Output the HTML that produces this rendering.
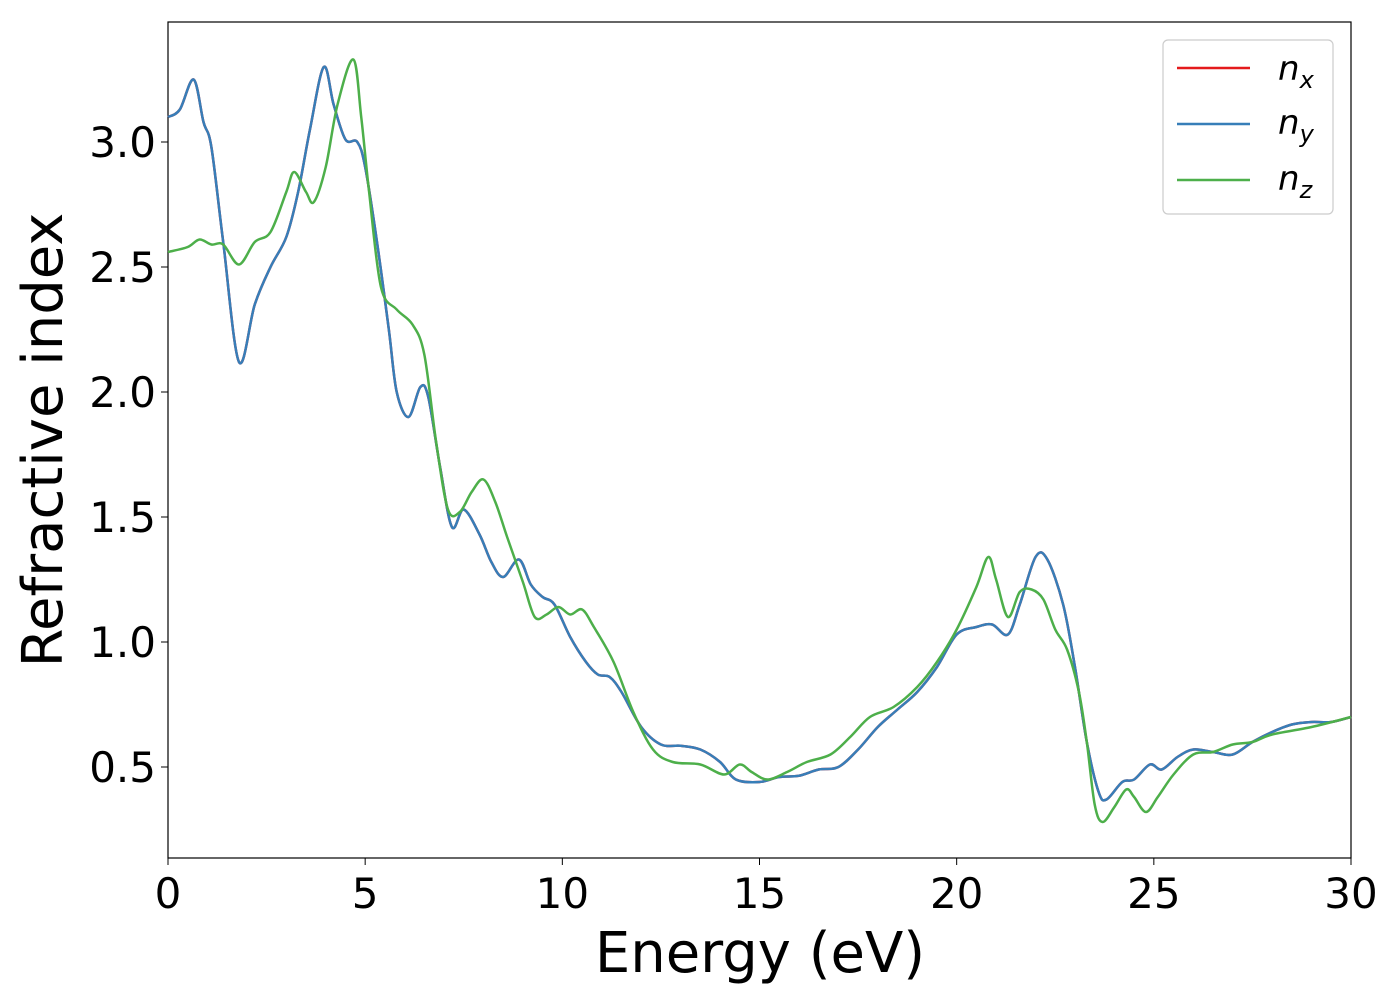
<!DOCTYPE html>
<html><head><meta charset="utf-8"><style>
body{margin:0;background:#fff;}
svg{font-family:"DejaVu Sans","Liberation Sans",sans-serif;}
</style></head><body>
<svg id="chart" width="1400" height="1000">
<rect x="168" y="22" width="1183" height="836" fill="#fff" stroke="#000" stroke-width="1.2"/>
<g id="ticks"></g>
<g id="series"></g>
<text x="760" y="972" font-size="56" text-anchor="middle">Energy (eV)</text>
<text transform="translate(62,440) rotate(-90)" font-size="56" text-anchor="middle">Refractive index</text>
<g>
<rect x="1163" y="40" width="170" height="174" rx="5" fill="#fff" stroke="#ccc" stroke-width="1.2"/>
<line x1="1177" y1="68" x2="1250" y2="68" stroke="#e41a1c" stroke-width="2.5"/>
<text x="1278" y="80" font-size="34" font-style="italic">n<tspan font-size="24" dy="8">x</tspan></text>
<line x1="1177" y1="124" x2="1250" y2="124" stroke="#377eb8" stroke-width="2.5"/>
<text x="1278" y="134" font-size="34" font-style="italic">n<tspan font-size="24" dy="8">y</tspan></text>
<line x1="1177" y1="180" x2="1250" y2="180" stroke="#4daf4a" stroke-width="2.5"/>
<text x="1278" y="190" font-size="34" font-style="italic">n<tspan font-size="24" dy="8">z</tspan></text>
</g>
</svg>
<script>
const xTicks=[0,5,10,15,20,25,30];
const yTicks=[0.5,1.0,1.5,2.0,2.5,3.0];
const energyXY=[0,0.3,0.65,0.9,1.1,1.4,1.8,2.2,2.6,3.0,3.3,3.6,3.95,4.2,4.5,4.8,5.0,5.3,5.6,5.8,6.1,6.4,6.6,6.9,7.2,7.5,7.9,8.2,8.5,8.9,9.2,9.5,9.8,10.2,10.6,10.9,11.2,11.5,12.0,12.5,13.0,13.5,14.0,14.4,15.0,15.5,16.0,16.5,17.0,17.5,18.0,18.5,19.0,19.5,20.0,20.5,20.9,21.3,21.6,22.0,22.3,22.7,23.0,23.3,23.6,23.8,24.2,24.5,24.9,25.2,25.6,26.0,26.5,27.0,27.5,28.0,28.5,29.0,29.5,30.0];
const nx=[3.10,3.13,3.25,3.08,2.98,2.60,2.12,2.35,2.50,2.62,2.80,3.05,3.30,3.15,3.01,3.00,2.90,2.60,2.25,2.00,1.90,2.02,1.98,1.70,1.46,1.53,1.43,1.32,1.26,1.33,1.23,1.18,1.15,1.02,0.92,0.87,0.86,0.80,0.66,0.59,0.585,0.57,0.52,0.45,0.44,0.46,0.465,0.49,0.50,0.57,0.66,0.73,0.80,0.90,1.03,1.06,1.07,1.03,1.15,1.34,1.33,1.15,0.90,0.60,0.40,0.37,0.44,0.45,0.51,0.49,0.54,0.57,0.56,0.55,0.60,0.64,0.67,0.68,0.68,0.70];
const ny=nx.slice();
const energyZ=[0,0.5,0.8,1.1,1.4,1.8,2.2,2.6,3.0,3.2,3.5,3.7,4.0,4.3,4.7,4.9,5.1,5.4,5.8,6.2,6.5,6.8,7.1,7.4,7.7,8.0,8.3,8.6,9.0,9.3,9.6,9.9,10.2,10.5,10.8,11.3,11.8,12.3,12.8,13.5,14.1,14.5,14.8,15.2,15.7,16.2,16.8,17.3,17.8,18.4,19.0,19.5,20.0,20.5,20.8,21.0,21.3,21.6,21.9,22.2,22.5,22.8,23.1,23.3,23.5,23.7,24.0,24.3,24.5,24.8,25.1,25.5,26.0,26.5,27.0,27.5,28.0,29.0,30.0];
const nz=[2.56,2.58,2.61,2.59,2.59,2.51,2.60,2.64,2.80,2.88,2.80,2.76,2.90,3.15,3.33,3.10,2.80,2.42,2.33,2.27,2.15,1.80,1.53,1.52,1.60,1.65,1.56,1.42,1.24,1.10,1.11,1.14,1.11,1.13,1.06,0.92,0.72,0.57,0.52,0.51,0.47,0.51,0.48,0.45,0.48,0.52,0.55,0.62,0.70,0.74,0.82,0.92,1.05,1.22,1.34,1.25,1.10,1.20,1.21,1.17,1.05,0.97,0.80,0.60,0.35,0.28,0.34,0.41,0.38,0.32,0.38,0.47,0.55,0.56,0.59,0.60,0.63,0.66,0.70];
const NS='http://www.w3.org/2000/svg';
const X=v=>168+v*(1183/30);
const Y=v=>142+(3.0-v)*250;
const ticks=document.getElementById('ticks');
xTicks.forEach(t=>{
  const l=document.createElementNS(NS,'line');
  l.setAttribute('x1',X(t));l.setAttribute('x2',X(t));l.setAttribute('y1',858);l.setAttribute('y2',865);l.setAttribute('stroke','#000');
  
  
  ticks.appendChild(l);
  const tx=document.createElementNS(NS,'text');
  tx.setAttribute('x',X(t));tx.setAttribute('y',908);tx.setAttribute('font-size','42');tx.setAttribute('text-anchor','middle');
  tx.textContent=t;
  
  
  ticks.appendChild(tx);
});
yTicks.forEach(t=>{
  const l=document.createElementNS(NS,'line');
  l.setAttribute('x1',161);l.setAttribute('x2',168);l.setAttribute('y1',Y(t));l.setAttribute('y2',Y(t));l.setAttribute('stroke','#000');
  
  
  ticks.appendChild(l);
  const tx=document.createElementNS(NS,'text');
  tx.setAttribute('x',156);tx.setAttribute('y',Y(t)+15);tx.setAttribute('font-size','42');tx.setAttribute('text-anchor','end');
  tx.textContent=t.toFixed(1);
  
  
  ticks.appendChild(tx);
});
function pathFor(xs,ys){
  const p=xs.map((x,i)=>[X(x),Y(ys[i])]);
  let d='M'+p[0][0]+','+p[0][1];
  for(let i=0;i<p.length-1;i++){
    const p0=p[Math.max(0,i-1)],p1=p[i],p2=p[i+1],p3=p[Math.min(p.length-1,i+2)];
    const c1x=p1[0]+(p2[0]-p0[0])/6,c1y=p1[1]+(p2[1]-p0[1])/6;
    const c2x=p2[0]-(p3[0]-p1[0])/6,c2y=p2[1]-(p3[1]-p1[1])/6;
    d+=` C${c1x},${c1y} ${c2x},${c2y} ${p2[0]},${p2[1]}`;
  }
  return d;
}
const series=document.getElementById('series');
[[energyXY,nx,'#e41a1c','line-nx'],[energyXY,ny,'#377eb8','line-ny'],[energyZ,nz,'#4daf4a','line-nz']].forEach(s=>{
  const p=document.createElementNS(NS,'path');
  p.setAttribute('d',pathFor(s[0],s[1]));p.setAttribute('fill','none');p.setAttribute('stroke',s[2]);p.setAttribute('stroke-width','2.5');
  
  
  series.appendChild(p);
});
</script>
</body></html>
